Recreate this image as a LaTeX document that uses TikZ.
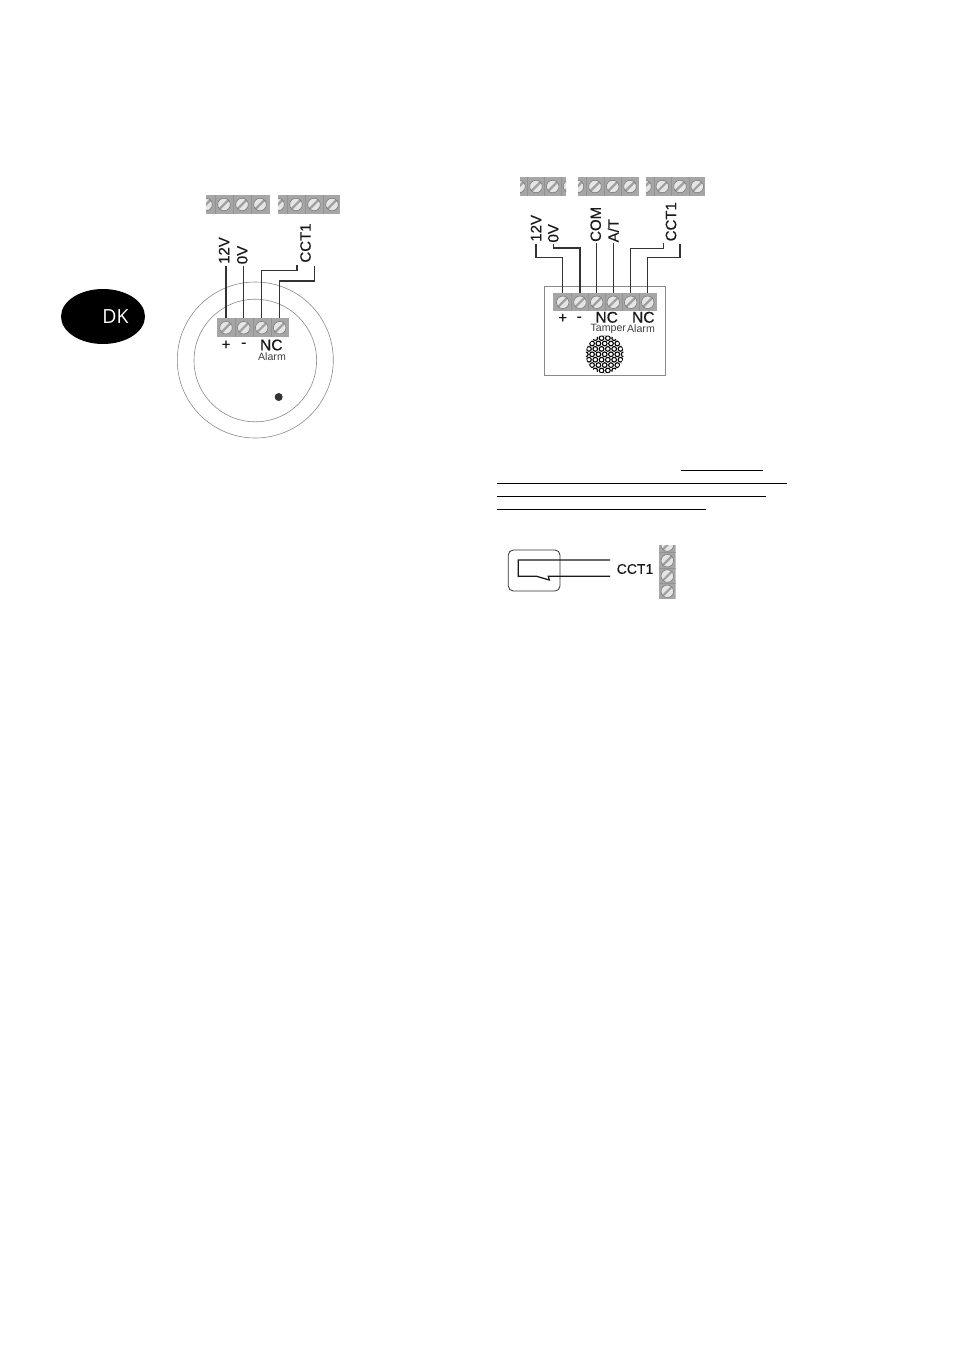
\documentclass[tikz,border=0pt]{standalone}
\usepackage{fontspec}
\usetikzlibrary{shapes.geometric}
\setmainfont{Liberation Sans}
\newfontfamily\dkfont{Open Sans}
\newfontfamily\labfont[FakeBold=0.25]{Liberation Sans}
\newfontfamily\ncfont[FakeBold=0.6]{Liberation Sans}
\definecolor{stripgray}{HTML}{A6A6A6}
\definecolor{cellline}{HTML}{939393}
\definecolor{slashgray}{HTML}{A0A0A0}
\definecolor{wirec}{HTML}{333333}
\definecolor{ringc}{HTML}{8A8A8A}
\tikzset{
  x=1pt,y=1pt,
  screw/.style={circle,inner sep=0pt,minimum size=12.5pt,draw=black!55,line width=.5pt,fill=black!10,
    path picture={\draw[slashgray,line width=2.2pt] (path picture bounding box.south west)--(path picture bounding box.north east);}},
  wire/.style={draw=wirec,line width=1.05pt},
  ring/.style={draw=ringc,line width=.6pt},
  bigl/.style={font=\labfont\fontsize{15}{15}\selectfont,inner sep=0pt,text=black!90},
  ncl/.style={font=\ncfont\fontsize{15.5}{15}\selectfont,inner sep=0pt,text=black!90},
  vlab/.style={bigl,rotate=90},
  minil/.style={font=\fontsize{10.6}{11}\selectfont,inner sep=0pt,text=black!75},
  ul/.style={draw=black,line width=1.1pt},
}
\begin{document}
\begin{tikzpicture}
\useasboundingbox (0,0) rectangle (954,-1350);
\fill[white] (0,0) rectangle (954,-1350);

% DK badge
\node[ellipse,fill=black,minimum width=84pt,minimum height=55pt,inner sep=0pt] (dk) at (103,-316.5) {};
\node[text=white,font=\dkfont\fontsize{19.5}{20}\selectfont,inner sep=0pt] (dkt) at (115.5,-317) {DK};

%% left device
\node[circle,ring,minimum size=156pt,inner sep=0pt] (outer) at (255.3,-360) {};
\node[circle,ring,minimum size=122.6pt,inner sep=0pt] (inner) at (255.3,-360.5) {};
\fill[black!80] (278.7,-397) circle (4);

% top strips left
\begin{scope}
\clip (206,-195) rectangle (270,-214);
\fill[stripgray] (206,-195) rectangle (270,-214);
\foreach \x in {215,233,251}{\draw[cellline,line width=.4pt] (\x,-195)--(\x,-214);}
\foreach \n/\x in {t1/206,t2/224,t3/242,t4/260}{\node[screw] (\n) at (\x,-204.5) {};}
\end{scope}
\begin{scope}
\clip (278,-195) rectangle (340,-214);
\fill[stripgray] (278,-195) rectangle (340,-214);
\foreach \x in {287,305,323}{\draw[cellline,line width=.4pt] (\x,-195)--(\x,-214);}
\foreach \n/\x in {t5/278,t6/296,t7/314,t8/332}{\node[screw] (\n) at (\x,-204.5) {};}
\end{scope}

% terminal strip left
\node[fill=stripgray,minimum width=72pt,minimum height=19pt,inner sep=0pt] (A) at (253,-327.5) {};
\foreach \x in {235,253,271}{\draw[cellline,line width=.4pt] (\x,-318)--(\x,-337);}
\foreach \n/\x in {a1/226,a2/243.7,a3/261.7,a4/279.7}{\node[screw] (\n) at (\x,-327.7) {};}

% labels left
\node[vlab] (l12) at (224,-250.5) {12V};
\node[vlab] (l0) at (242.3,-255) {0V};
\node[vlab] (lc) at (305.5,-243) {CCT1};
\coordinate (w1) at (226,-265.5);
\coordinate (w2) at (243.7,-265.5);
\coordinate (w3) at (297,-265);
\coordinate (w4) at (314.7,-266);
\draw[wire] (w1) -- (a1 |- A.north);
\draw[wire] (w2) -- (a2 |- A.north);
\draw[wire] (w3) -- ++(0,-5.7) -| (a3 |- A.north);
\draw[wire] (w4) -- ++(0,-15) -| (a4 |- A.north);
\node[bigl] (p1) at (226,-345) {+};
\node[bigl] (m1) at (243.7,-345) {-};
\node[ncl] (nc1) at (271.3,-345) {NC};
\node[minil] (al1) at (272,-357) {Alarm};

%% right device
\draw[ring] (544.7,-286.3) -- (665.3,-286.3) -- (665.3,-375.7) -- (544.7,-375.7) -- cycle;

% top strips right
\begin{scope}
\clip (520,-177) rectangle (566,-196);
\fill[stripgray] (520,-177) rectangle (566,-196);
\foreach \x in {527.5,544.5,561}{\draw[cellline,line width=.4pt] (\x,-177)--(\x,-196);}
\foreach \n/\x in {u1/519,u2/536,u3/552.7,u4/569.5}{\node[screw] (\n) at (\x,-186.5) {};}
\end{scope}
\begin{scope}
\clip (578,-177) rectangle (639,-196);
\fill[stripgray] (578,-177) rectangle (639,-196);
\foreach \x in {586,604,621.5}{\draw[cellline,line width=.4pt] (\x,-177)--(\x,-196);}
\foreach \n/\x in {u5/577.5,u6/595,u7/612.7,u8/630}{\node[screw] (\n) at (\x,-186.5) {};}
\end{scope}
\begin{scope}
\clip (646,-177) rectangle (705,-196);
\fill[stripgray] (646,-177) rectangle (705,-196);
\foreach \x in {654,671,689}{\draw[cellline,line width=.4pt] (\x,-177)--(\x,-196);}
\foreach \n/\x in {u9/645,u10/662.3,u11/680,u12/697.3}{\node[screw] (\n) at (\x,-186.5) {};}
\end{scope}

% terminal strip right
\node[fill=stripgray,minimum width=104pt,minimum height=18.5pt,inner sep=0pt] (B) at (605,-302) {};
\foreach \x in {571,588,605,622,639}{\draw[cellline,line width=.4pt] (\x,-293)--(\x,-311);}
\foreach \n/\x in {b1/562.7,b2/580,b3/596.7,b4/613.3,b5/630.7,b6/647.7}{\node[screw] (\n) at (\x,-302.3) {};}

% labels right
\node[vlab] (r12) at (536,-228.3) {12V};
\node[vlab] (r0) at (553.3,-233.3) {0V};
\node[vlab] (rcom) at (595.7,-224.3) {COM};
\node[vlab] (rat) at (613.3,-230.7) {A/T};
\node[vlab] (rc) at (671,-221.7) {CCT1};
\coordinate (x1) at (536,-244);
\coordinate (x2) at (553.7,-244);
\coordinate (x3) at (596.7,-243);
\coordinate (x4) at (613.3,-243);
\coordinate (x5) at (663.3,-242.7);
\coordinate (x6) at (680,-244);
\draw[wire] (x1) -- ++(0,-13.7) -| (b1 |- B.north);
\draw[wire] (x2) -- ++(0,-4) -| (b2 |- B.north);
\draw[wire] (x3) -- (b3 |- B.north);
\draw[wire] (x4) -- (b4 |- B.north);
\draw[wire] (x5) -- ++(0,-5.6) -| (b5 |- B.north);
\draw[wire] (x6) -- ++(0,-13.3) -| (b6 |- B.north);
\node[bigl] (p2) at (562.7,-318.3) {+};
\node[bigl] (m2) at (579.3,-319) {-};
\node[ncl] (nc2) at (606.7,-317.3) {NC};
\node[ncl] (nc3) at (643.3,-317.3) {NC};
\node[minil] (tam) at (608.3,-329) {Tamper};
\node[minil] (al2) at (641,-329) {Alarm};

% mesh
\begin{scope}
\clip (604.7,-354.3) circle (19);
\fill[white] (604.7,-354.3) circle (19);
\foreach \i in {-4,...,4}{
  \foreach \j in {-4,...,4}{
    \pgfmathsetmacro{\xx}{604.7+6.3*\i+3.15*mod(abs(\j),2)}
    \pgfmathsetmacro{\yy}{-354.3+5.4*\j}
    \draw[black,line width=1.1pt] (\xx,\yy) circle (2.35);
  }
}
\end{scope}

%% underlines
\coordinate (ua) at (681,-470.3); \coordinate (ub) at (762.7,-470.3);
\coordinate (uc) at (497,-483.3); \coordinate (ud) at (786.7,-483.3);
\coordinate (ue) at (497,-496.3); \coordinate (uf) at (766,-496.3);
\coordinate (ug) at (497,-509.3); \coordinate (uh) at (706,-509.3);
\draw[ul] (ua)--(ub); \draw[ul] (uc)--(ud); \draw[ul] (ue)--(uf); \draw[ul] (ug)--(uh);

%% relay
\draw[wirec,line width=.8pt,rounded corners=5pt] (508.3,-550) rectangle (560,-591);
\coordinate (ra) at (610,-560);
\coordinate (rb) at (610,-576.3);
\draw[draw=black!90,line width=1.25pt] (ra) -- (518.3,-560) -- (518.3,-576.3) -- (536.7,-576.3) -- (549.3,-580) -- (548.3,-576.3) -- (rb);
\node[font=\labfont\fontsize{14}{14}\selectfont,inner sep=0pt,text=black!90] (rl) at (635,-569) {CCT1};
\begin{scope}
\clip (659,-545) rectangle (675.7,-599.3);
\fill[stripgray] (659,-545) rectangle (675.7,-599.3);
\foreach \y in {-552.5,-568.5,-583.5}{\draw[cellline,line width=.4pt] (659,\y)--(675.7,\y);}
\foreach \n/\y in {s1/-545,s2/-560.7,s3/-576,s4/-591.3}{\node[screw] (\n) at (667.3,\y) {};}
\end{scope}
\end{tikzpicture}
\end{document}
